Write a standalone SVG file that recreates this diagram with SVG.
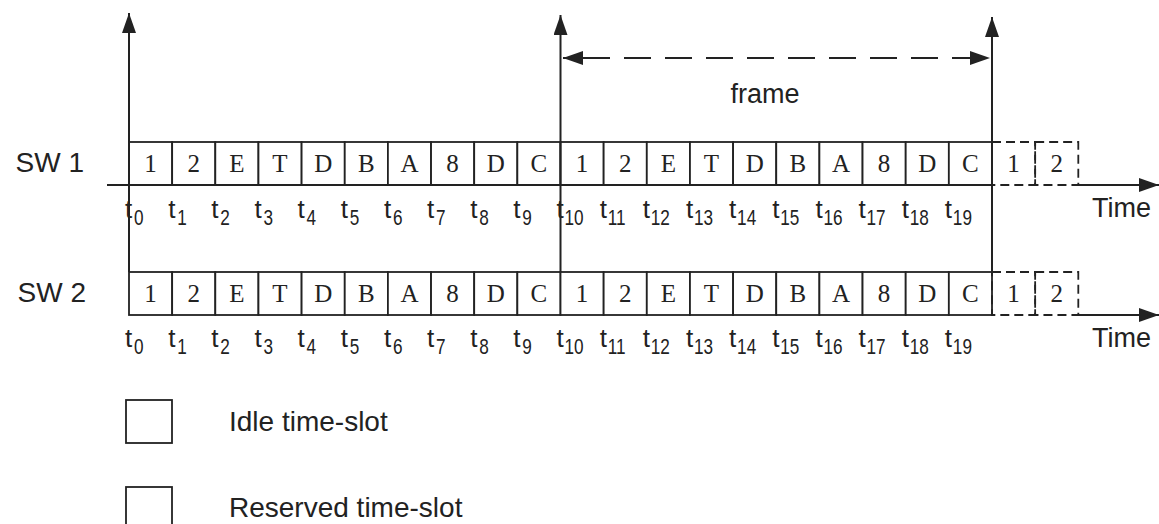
<svg xmlns="http://www.w3.org/2000/svg" width="1159" height="524" viewBox="0 0 1159 524">
<style>
  .cell{fill:#fff;stroke:#222;stroke-width:1.8}
  .dcell{fill:none;stroke:#222;stroke-width:1.8;stroke-dasharray:9 5}
  .ax{stroke:#222;stroke-width:2;fill:none}
  .lbl{font-family:"Liberation Serif","Times New Roman",serif;font-size:25px;fill:#222;text-anchor:middle}
  .sans{font-family:"Liberation Sans",Arial,sans-serif;fill:#222}
  .t{font-family:"Liberation Sans",Arial,sans-serif;font-size:26px;fill:#222}
  .sub{font-family:"Liberation Sans",Arial,sans-serif;font-size:22px;fill:#222}
</style>
<defs>
  <marker id="ah" markerUnits="userSpaceOnUse" markerWidth="20" markerHeight="14" refX="20" refY="7" orient="auto-start-reverse" viewBox="0 0 20 14">
    <path d="M0,0 L20,7 L0,14 z" fill="#222"/>
  </marker>
</defs>

<g id="sw1-label"><text class="sans" x="84" y="172" font-size="28" text-anchor="end">SW 1</text></g>
<g id="sw2-label"><text class="sans" x="86" y="302" font-size="28" text-anchor="end">SW 2</text></g>

<g id="row-sw1">
  <rect class="cell" x="129" y="142" width="43.15" height="43"/>
  <rect class="cell" x="172.15" y="142" width="43.15" height="43"/>
  <rect class="cell" x="215.3" y="142" width="43.15" height="43"/>
  <rect class="cell" x="258.45" y="142" width="43.15" height="43"/>
  <rect class="cell" x="301.6" y="142" width="43.15" height="43"/>
  <rect class="cell" x="344.75" y="142" width="43.15" height="43"/>
  <rect class="cell" x="387.9" y="142" width="43.15" height="43"/>
  <rect class="cell" x="431.05" y="142" width="43.15" height="43"/>
  <rect class="cell" x="474.2" y="142" width="43.15" height="43"/>
  <rect class="cell" x="517.35" y="142" width="43.15" height="43"/>
  <rect class="cell" x="560.5" y="142" width="43.15" height="43"/>
  <rect class="cell" x="603.65" y="142" width="43.15" height="43"/>
  <rect class="cell" x="646.8" y="142" width="43.15" height="43"/>
  <rect class="cell" x="689.95" y="142" width="43.15" height="43"/>
  <rect class="cell" x="733.1" y="142" width="43.15" height="43"/>
  <rect class="cell" x="776.25" y="142" width="43.15" height="43"/>
  <rect class="cell" x="819.4" y="142" width="43.15" height="43"/>
  <rect class="cell" x="862.55" y="142" width="43.15" height="43"/>
  <rect class="cell" x="905.7" y="142" width="43.15" height="43"/>
  <rect class="cell" x="948.85" y="142" width="43.15" height="43"/>
  <rect class="dcell" x="992" y="142" width="43.15" height="43"/>
  <rect class="dcell" x="1035.15" y="142" width="43.15" height="43"/>
  <text class="lbl" y="172"><tspan x="150.6">1</tspan><tspan x="193.7">2</tspan><tspan x="236.9">E</tspan><tspan x="280">T</tspan><tspan x="323.2">D</tspan><tspan x="366.3">B</tspan><tspan x="409.5">A</tspan><tspan x="452.6">8</tspan><tspan x="495.8">D</tspan><tspan x="538.9">C</tspan><tspan x="582.1">1</tspan><tspan x="625.2">2</tspan><tspan x="668.4">E</tspan><tspan x="711.5">T</tspan><tspan x="754.7">D</tspan><tspan x="797.8">B</tspan><tspan x="841">A</tspan><tspan x="884.1">8</tspan><tspan x="927.3">D</tspan><tspan x="970.4">C</tspan><tspan x="1013.6">1</tspan><tspan x="1056.7">2</tspan></text>
</g>

<g id="row-sw2">
  <rect class="cell" x="129" y="272" width="43.15" height="43"/>
  <rect class="cell" x="172.15" y="272" width="43.15" height="43"/>
  <rect class="cell" x="215.3" y="272" width="43.15" height="43"/>
  <rect class="cell" x="258.45" y="272" width="43.15" height="43"/>
  <rect class="cell" x="301.6" y="272" width="43.15" height="43"/>
  <rect class="cell" x="344.75" y="272" width="43.15" height="43"/>
  <rect class="cell" x="387.9" y="272" width="43.15" height="43"/>
  <rect class="cell" x="431.05" y="272" width="43.15" height="43"/>
  <rect class="cell" x="474.2" y="272" width="43.15" height="43"/>
  <rect class="cell" x="517.35" y="272" width="43.15" height="43"/>
  <rect class="cell" x="560.5" y="272" width="43.15" height="43"/>
  <rect class="cell" x="603.65" y="272" width="43.15" height="43"/>
  <rect class="cell" x="646.8" y="272" width="43.15" height="43"/>
  <rect class="cell" x="689.95" y="272" width="43.15" height="43"/>
  <rect class="cell" x="733.1" y="272" width="43.15" height="43"/>
  <rect class="cell" x="776.25" y="272" width="43.15" height="43"/>
  <rect class="cell" x="819.4" y="272" width="43.15" height="43"/>
  <rect class="cell" x="862.55" y="272" width="43.15" height="43"/>
  <rect class="cell" x="905.7" y="272" width="43.15" height="43"/>
  <rect class="cell" x="948.85" y="272" width="43.15" height="43"/>
  <rect class="dcell" x="992" y="272" width="43.15" height="43"/>
  <rect class="dcell" x="1035.15" y="272" width="43.15" height="43"/>
  <text class="lbl" y="302"><tspan x="150.6">1</tspan><tspan x="193.7">2</tspan><tspan x="236.9">E</tspan><tspan x="280">T</tspan><tspan x="323.2">D</tspan><tspan x="366.3">B</tspan><tspan x="409.5">A</tspan><tspan x="452.6">8</tspan><tspan x="495.8">D</tspan><tspan x="538.9">C</tspan><tspan x="582.1">1</tspan><tspan x="625.2">2</tspan><tspan x="668.4">E</tspan><tspan x="711.5">T</tspan><tspan x="754.7">D</tspan><tspan x="797.8">B</tspan><tspan x="841">A</tspan><tspan x="884.1">8</tspan><tspan x="927.3">D</tspan><tspan x="970.4">C</tspan><tspan x="1013.6">1</tspan><tspan x="1056.7">2</tspan></text>
</g>

<g id="connectors">
  <line class="ax" x1="129" y1="272" x2="129" y2="13" marker-end="url(#ah)"/>
  <line class="ax" x1="560.5" y1="272" x2="560.5" y2="15" marker-end="url(#ah)"/>
  <line class="ax" x1="992" y1="272" x2="992" y2="17" marker-end="url(#ah)"/>
  <line class="ax" x1="107" y1="185" x2="992" y2="185"/>
  <line class="ax" x1="1078.3" y1="185" x2="1159" y2="185" marker-end="url(#ah)"/>
  <line class="ax" x1="1078.3" y1="315" x2="1159" y2="315" marker-end="url(#ah)"/>
  <line class="ax" x1="563" y1="58" x2="990" y2="58" stroke-dasharray="27 14" stroke-dashoffset="21" marker-start="url(#ah)" marker-end="url(#ah)"/>
</g>

<g id="frame-label"><text class="sans" x="765" y="103" font-size="27" text-anchor="middle">frame</text></g>
<g id="time1"><text class="sans" x="1092" y="217" font-size="27">Time</text></g>
<g id="time2"><text class="sans" x="1092" y="347" font-size="27">Time</text></g>

<g id="ticks-sw1">
  <text class="t" y="218"><tspan x="125">t</tspan><tspan x="168.15">t</tspan><tspan x="211.3">t</tspan><tspan x="254.45">t</tspan><tspan x="297.6">t</tspan><tspan x="340.75">t</tspan><tspan x="383.9">t</tspan><tspan x="427.05">t</tspan><tspan x="470.2">t</tspan><tspan x="513.35">t</tspan><tspan x="556.5">t</tspan><tspan x="599.65">t</tspan><tspan x="642.8">t</tspan><tspan x="685.95">t</tspan><tspan x="729.1">t</tspan><tspan x="772.25">t</tspan><tspan x="815.4">t</tspan><tspan x="858.55">t</tspan><tspan x="901.7">t</tspan><tspan x="944.85">t</tspan></text>
  <text class="sub" transform="translate(134,225) scale(0.78,1)">0</text>
  <text class="sub" transform="translate(177.15,225) scale(0.78,1)">1</text>
  <text class="sub" transform="translate(220.3,225) scale(0.78,1)">2</text>
  <text class="sub" transform="translate(263.45,225) scale(0.78,1)">3</text>
  <text class="sub" transform="translate(306.6,225) scale(0.78,1)">4</text>
  <text class="sub" transform="translate(349.75,225) scale(0.78,1)">5</text>
  <text class="sub" transform="translate(392.9,225) scale(0.78,1)">6</text>
  <text class="sub" transform="translate(436.05,225) scale(0.78,1)">7</text>
  <text class="sub" transform="translate(479.2,225) scale(0.78,1)">8</text>
  <text class="sub" transform="translate(522.35,225) scale(0.78,1)">9</text>
  <text class="sub" transform="translate(564.5,225) scale(0.78,1)">10</text>
  <text class="sub" transform="translate(607.65,225) scale(0.78,1)">11</text>
  <text class="sub" transform="translate(650.8,225) scale(0.78,1)">12</text>
  <text class="sub" transform="translate(693.95,225) scale(0.78,1)">13</text>
  <text class="sub" transform="translate(737.1,225) scale(0.78,1)">14</text>
  <text class="sub" transform="translate(780.25,225) scale(0.78,1)">15</text>
  <text class="sub" transform="translate(823.4,225) scale(0.78,1)">16</text>
  <text class="sub" transform="translate(866.55,225) scale(0.78,1)">17</text>
  <text class="sub" transform="translate(909.7,225) scale(0.78,1)">18</text>
  <text class="sub" transform="translate(952.85,225) scale(0.78,1)">19</text>
</g>

<g id="ticks-sw2">
  <text class="t" y="347"><tspan x="125">t</tspan><tspan x="168.15">t</tspan><tspan x="211.3">t</tspan><tspan x="254.45">t</tspan><tspan x="297.6">t</tspan><tspan x="340.75">t</tspan><tspan x="383.9">t</tspan><tspan x="427.05">t</tspan><tspan x="470.2">t</tspan><tspan x="513.35">t</tspan><tspan x="556.5">t</tspan><tspan x="599.65">t</tspan><tspan x="642.8">t</tspan><tspan x="685.95">t</tspan><tspan x="729.1">t</tspan><tspan x="772.25">t</tspan><tspan x="815.4">t</tspan><tspan x="858.55">t</tspan><tspan x="901.7">t</tspan><tspan x="944.85">t</tspan></text>
  <text class="sub" transform="translate(134,354) scale(0.78,1)">0</text>
  <text class="sub" transform="translate(177.15,354) scale(0.78,1)">1</text>
  <text class="sub" transform="translate(220.3,354) scale(0.78,1)">2</text>
  <text class="sub" transform="translate(263.45,354) scale(0.78,1)">3</text>
  <text class="sub" transform="translate(306.6,354) scale(0.78,1)">4</text>
  <text class="sub" transform="translate(349.75,354) scale(0.78,1)">5</text>
  <text class="sub" transform="translate(392.9,354) scale(0.78,1)">6</text>
  <text class="sub" transform="translate(436.05,354) scale(0.78,1)">7</text>
  <text class="sub" transform="translate(479.2,354) scale(0.78,1)">8</text>
  <text class="sub" transform="translate(522.35,354) scale(0.78,1)">9</text>
  <text class="sub" transform="translate(564.5,354) scale(0.78,1)">10</text>
  <text class="sub" transform="translate(607.65,354) scale(0.78,1)">11</text>
  <text class="sub" transform="translate(650.8,354) scale(0.78,1)">12</text>
  <text class="sub" transform="translate(693.95,354) scale(0.78,1)">13</text>
  <text class="sub" transform="translate(737.1,354) scale(0.78,1)">14</text>
  <text class="sub" transform="translate(780.25,354) scale(0.78,1)">15</text>
  <text class="sub" transform="translate(823.4,354) scale(0.78,1)">16</text>
  <text class="sub" transform="translate(866.55,354) scale(0.78,1)">17</text>
  <text class="sub" transform="translate(909.7,354) scale(0.78,1)">18</text>
  <text class="sub" transform="translate(952.85,354) scale(0.78,1)">19</text>
</g>

<g id="legend-idle">
  <rect class="cell" x="126" y="400" width="46" height="43"/>
  <text class="sans" x="229" y="431" font-size="28">Idle time-slot</text>
</g>
<g id="legend-reserved">
  <rect class="cell" x="126" y="487" width="46" height="43"/>
  <text class="sans" x="229" y="517" font-size="28">Reserved time-slot</text>
</g>
</svg>
